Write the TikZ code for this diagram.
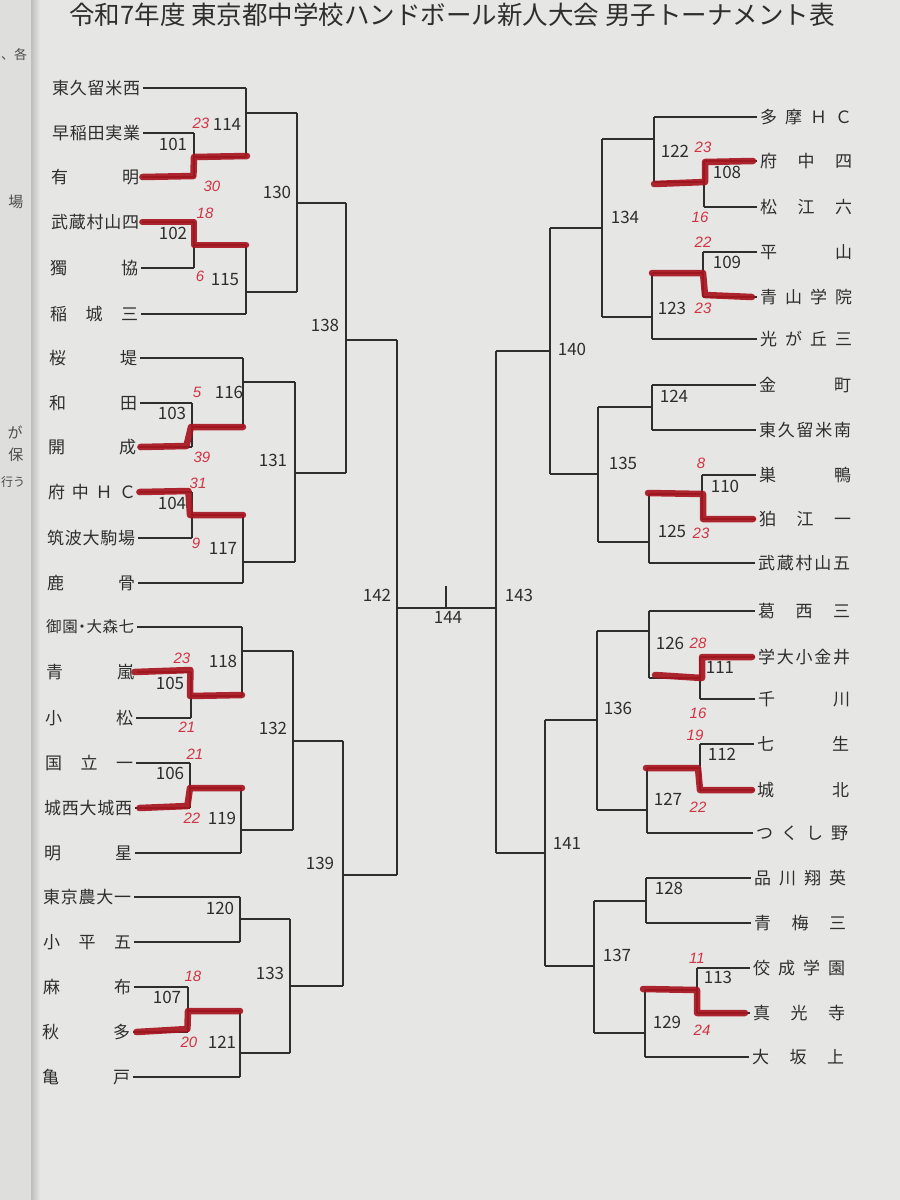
\documentclass[tikz,border=0pt]{standalone}
\usepackage{fontspec}
\newfontfamily\jp{Noto Sans CJK JP}
\newfontfamily\hand{Liberation Sans}
\definecolor{paper}{HTML}{E6E6E4}
\definecolor{strip}{HTML}{DEDEDC}
\definecolor{shadowc}{HTML}{BEBEBC}
\definecolor{ink}{HTML}{2E2E2E}
\definecolor{redink}{HTML}{A8141E}
\definecolor{scorered}{HTML}{D03444}
\newcommand\teamL[1]{\makebox[88pt][s]{#1}}
\newcommand\teamR[1]{\makebox[92pt][s]{#1}}
\begin{document}
\begin{tikzpicture}[x=1pt,y=-1pt,
  bline/.style={draw=ink, line width=1.2pt},
  win/.style={draw=redink, line width=6.5pt, line cap=round, line join=round, opacity=0.92},
  team/.style={font=\jp\fontsize{17}{20}\selectfont, anchor=west, inner sep=0pt, text=ink},
  num/.style={font=\jp\fontsize{17}{20}\selectfont, inner sep=0pt, text=ink},
  score/.style={font=\hand\itshape\fontsize{15}{16}\selectfont, inner sep=0pt, text=scorered},
  margin/.style={font=\jp\fontsize{15}{18}\selectfont, inner sep=0pt, text=ink!85}]
\useasboundingbox (0,0) rectangle (900,1200);
\fill[paper] (0,0) rectangle (900,1200);
\fill[strip] (0,0) rectangle (31,1200);
\shade[left color=shadowc, right color=paper] (31,0) rectangle (40,1200);
% margin fragments
\node[margin, anchor=west, font=\jp\fontsize{13}{15}\selectfont] (mg1) at (1,55) {、各};
\node[margin] (mg2) at (16,202) {場};
\node[margin] (mg3) at (15,432) {が};
\node[margin] (mg4) at (16,455) {保};
\node[margin, anchor=west, font=\jp\fontsize{12}{14}\selectfont] (mg5) at (1,482) {行う};
% title
\node[font=\jp\fontsize{25.5}{28}\selectfont, text=ink, inner sep=0pt] (title) at (452,15) {令和7年度 東京都中学校ハンドボール新人大会 男子トーナメント表};

% ---------------- left teams
\node[team] (L1) at (52,88) {\teamL{東\hfill 久\hfill 留\hfill 米\hfill 西}};
\node[team] (L2) at (52,133) {\teamL{早\hfill 稲\hfill 田\hfill 実\hfill 業}};
\node[team] (L3) at (51,177) {\teamL{有\hfill 明}};
\node[team] (L4) at (51,222) {\teamL{武\hfill 蔵\hfill 村\hfill 山\hfill 四}};
\node[team] (L5) at (50,268) {\teamL{獨\hfill 協}};
\node[team] (L6) at (50,314) {\teamL{稲\hfill 城\hfill 三}};
\node[team] (L7) at (49,358) {\teamL{桜\hfill 堤}};
\node[team] (L8) at (49,403) {\teamL{和\hfill 田}};
\node[team] (L9) at (48,447) {\teamL{開\hfill 成}};
\node[team] (L10) at (48,492) {\teamL{府\hfill 中\hfill Ｈ\hfill Ｃ}};
\node[team] (L11) at (47,538) {\teamL{筑\hfill 波\hfill 大\hfill 駒\hfill 場}};
\node[team] (L12) at (47,583) {\teamL{鹿\hfill 骨}};
\node[team, font=\jp\fontsize{15.5}{18}\selectfont] (L13) at (46,627) {\teamL{御\hfill 園\hfill\kern-4pt ・\kern-4pt\hfill 大\hfill 森\hfill 七}};
\node[team] (L14) at (46,672) {\teamL{青\hfill 嵐}};
\node[team] (L15) at (45,718) {\teamL{小\hfill 松}};
\node[team] (L16) at (45,763) {\teamL{国\hfill 立\hfill 一}};
\node[team] (L17) at (44,808) {\teamL{城\hfill 西\hfill 大\hfill 城\hfill 西}};
\node[team] (L18) at (44,853) {\teamL{明\hfill 星}};
\node[team] (L19) at (43,897) {\teamL{東\hfill 京\hfill 農\hfill 大\hfill 一}};
\node[team] (L20) at (43,942) {\teamL{小\hfill 平\hfill 五}};
\node[team] (L21) at (43,987) {\teamL{麻\hfill 布}};
\node[team] (L22) at (42,1032) {\teamL{秋\hfill 多}};
\node[team] (L23) at (42,1077) {\teamL{亀\hfill 戸}};

% ---------------- right teams
\node[team] (R1) at (760,117) {\teamR{多\hfill 摩\hfill Ｈ\hfill Ｃ}};
\node[team] (R2) at (760,161) {\teamR{府\hfill 中\hfill 四}};
\node[team] (R3) at (760,207) {\teamR{松\hfill 江\hfill 六}};
\node[team] (R4) at (760,252) {\teamR{平\hfill 山}};
\node[team] (R5) at (760,297) {\teamR{青\hfill 山\hfill 学\hfill 院}};
\node[team] (R6) at (760,339) {\teamR{光\hfill が\hfill 丘\hfill 三}};
\node[team] (R7) at (759,385) {\teamR{金\hfill 町}};
\node[team] (R8) at (759,430) {\teamR{東\hfill 久\hfill 留\hfill 米\hfill 南}};
\node[team] (R9) at (759,475) {\teamR{巣\hfill 鴨}};
\node[team] (R10) at (759,519) {\teamR{狛\hfill 江\hfill 一}};
\node[team] (R11) at (758,563) {\teamR{武\hfill 蔵\hfill 村\hfill 山\hfill 五}};
\node[team] (R12) at (758,611) {\teamR{葛\hfill 西\hfill 三}};
\node[team] (R13) at (758,657) {\teamR{学\hfill 大\hfill 小\hfill 金\hfill 井}};
\node[team] (R14) at (758,699) {\teamR{千\hfill 川}};
\node[team] (R15) at (757,744) {\teamR{七\hfill 生}};
\node[team] (R16) at (757,790) {\teamR{城\hfill 北}};
\node[team] (R17) at (756,833) {\teamR{つ\hfill く\hfill し\hfill 野}};
\node[team] (R18) at (754,878) {\teamR{品\hfill 川\hfill 翔\hfill 英}};
\node[team] (R19) at (754,923) {\teamR{青\hfill 梅\hfill 三}};
\node[team] (R20) at (753,968) {\teamR{佼\hfill 成\hfill 学\hfill 園}};
\node[team] (R21) at (753,1013) {\teamR{真\hfill 光\hfill 寺}};
\node[team] (R22) at (752,1057) {\teamR{大\hfill 坂\hfill 上}};

% ---------------- match points (left)
\coordinate (m101) at (194,157); \coordinate (m102) at (194,245);
\coordinate (m103) at (192,427); \coordinate (m104) at (192,515);
\coordinate (m105) at (191,696); \coordinate (m106) at (190,788);
\coordinate (m107) at (188,1011);
\coordinate (m114) at (246,113); \coordinate (m115) at (246,292);
\coordinate (m116) at (243,382); \coordinate (m117) at (243,562);
\coordinate (m118) at (242,651); \coordinate (m119) at (241,830);
\coordinate (m120) at (240,919); \coordinate (m121) at (240,1053);
\coordinate (m130) at (297,203); \coordinate (m131) at (295,473);
\coordinate (m132) at (293,741); \coordinate (m133) at (290,986);
\coordinate (m138) at (346,340); \coordinate (m139) at (343,875);
\coordinate (m142) at (397,608);
% (right)
\coordinate (m108) at (704,182); \coordinate (m109) at (703,273);
\coordinate (m110) at (702,494); \coordinate (m111) at (700,678);
\coordinate (m112) at (700,768); \coordinate (m113) at (697,990);
\coordinate (m122) at (654,139); \coordinate (m123) at (652,317);
\coordinate (m124) at (652,407); \coordinate (m125) at (649,542);
\coordinate (m126) at (649,631); \coordinate (m127) at (647,810);
\coordinate (m128) at (646,901); \coordinate (m129) at (645,1033);
\coordinate (m134) at (602,228); \coordinate (m135) at (598,474);
\coordinate (m136) at (597,720); \coordinate (m137) at (594,966);
\coordinate (m140) at (550,351); \coordinate (m141) at (545,853);
\coordinate (m143) at (496,608);
\coordinate (fin) at (446,586);

% ---------------- left bracket lines
\foreach \t/\m in {L1/m114,L2/m101,L3/m101,L4/m102,L5/m102,L6/m115,L7/m116,L8/m103,L9/m103,L10/m104,L11/m104,L12/m117,L13/m118,L14/m105,L15/m105,L16/m106,L17/m106,L18/m119,L19/m120,L20/m120,L21/m107,L22/m107,L23/m121}
  \draw[bline] ([xshift=3pt]\t.east) -- (\t -| \m);
\foreach \m/\a/\b/\n in {m101/L2/L3/m114, m102/L4/L5/m115, m103/L8/L9/m116, m104/L10/L11/m117,
  m105/L14/L15/m118, m106/L16/L17/m119, m107/L21/L22/m121,
  m114/L1/m101/m130, m115/m102/L6/m130, m116/L7/m103/m131, m117/m104/L12/m131,
  m118/L13/m105/m132, m119/m106/L18/m132, m120/L19/L20/m133, m121/m107/L23/m133,
  m130/m114/m115/m138, m131/m116/m117/m138, m132/m118/m119/m139, m133/m120/m121/m139,
  m138/m130/m131/m142, m139/m132/m133/m142}
  { \draw[bline] (\a -| \m) -- (\b -| \m); \draw[bline] (\m) -- (\m -| \n); }
\draw[bline] (m138 -| m142) -- (m139 -| m142);

% ---------------- right bracket lines
\foreach \t/\m in {R1/m122,R2/m108,R3/m108,R4/m109,R5/m109,R6/m123,R7/m124,R8/m124,R9/m110,R10/m110,R11/m125,R12/m126,R13/m111,R14/m111,R15/m112,R16/m112,R17/m127,R18/m128,R19/m128,R20/m113,R21/m113,R22/m129}
  \draw[bline] ([xshift=-3pt]\t.west) -- (\t -| \m);
\foreach \m/\a/\b/\n in {m108/R2/R3/m122, m109/R4/R5/m123, m110/R9/R10/m125, m111/R13/R14/m126,
  m112/R15/R16/m127, m113/R20/R21/m129,
  m122/R1/m108/m134, m123/m109/R6/m134, m124/R7/R8/m135, m125/m110/R11/m135,
  m126/R12/m111/m136, m127/m112/R17/m136, m128/R18/R19/m137, m129/m113/R22/m137,
  m134/m122/m123/m140, m135/m124/m125/m140, m136/m126/m127/m141, m137/m128/m129/m141,
  m140/m134/m135/m143, m141/m136/m137/m143}
  { \draw[bline] (\a -| \m) -- (\b -| \m); \draw[bline] (\m) -- (\m -| \n); }
\draw[bline] (m140 -| m143) -- (m141 -| m143);
% final
\draw[bline] (m142) -- (m143);
\draw[bline] (fin) -- (fin |- m142);

% ---------------- red winner marks
\draw[win] ([xshift=3pt]L3.east) -- ++(51,-1) -- (m101) -- ++(53,-1);
\draw[win] ([xshift=3pt]L4.east) -- (L4 -| m102) -- (m102) -- ++(52,0);
\draw[win] ([xshift=4pt]L9.east) -- ++(46,-1) -- ([xshift=-1pt]m103) -- ++(52,0);
\draw[win] ([xshift=3pt]L10.east) -- ++(49,-1) -- ([xshift=-2pt]m104) -- ++(53,0);
\draw[win] ([xshift=0pt]L14.east) -- ++(56,-2) -- ([xshift=-1pt]m105) -- ++(52,-1);
\draw[win] ([xshift=7pt]L17.east) -- ++(48,-2) -- (m106) -- ++(52,0);
\draw[win] ([xshift=6pt]L22.east) -- ++(51,-3) -- (m107) -- ++(52,0);
\draw[win] ([xshift=-7pt]R2.west) -- ++(-48,1) -- ([xshift=1pt]m108) -- ++(-51,2);
\draw[win] ([xshift=-8pt]R5.west) -- ++(-47,-2) -- (m109) -- ++(-51,0);
\draw[win] ([xshift=-6pt]R10.west) -- ++(-50,0) -- ([xshift=1pt]m110) -- ++(-55,-1);
\draw[win] ([xshift=-6pt]R13.west) -- ++(-50,0) -- ([xshift=2pt]m111) -- ++(-47,-3);
\draw[win] ([xshift=-5pt]R16.west) -- ++(-52,0) -- ([xshift=-2pt]m112) -- ++(-52,0);
\draw[win] ([xshift=-8pt]R21.west) -- ++(-48,0) -- (m113) -- ++(-54,-1);

% ---------------- match numbers
\foreach \p/\lab in {{173,144}/101,{173,233}/102,{172,413}/103,{172,503}/104,{170,683}/105,{170,773}/106,{167,997}/107,
  {227,124}/114,{225,280}/115,{229,392}/116,{223,548}/117,{223,661}/118,{222,818}/119,{220,908}/120,{222,1042}/121,
  {277,192}/130,{273,460}/131,{273,728}/132,{270,973}/133,{325,325}/138,{320,863}/139,
  {377,595}/142,{448,617}/144,{519,595}/143,
  {675,151}/122,{727,172}/108,{727,262}/109,{672,308}/123,{625,217}/134,{572,349}/140,
  {674,396}/124,{725,486}/110,{672,531}/125,{623,463}/135,
  {670,643}/126,{720,667}/111,{722,754}/112,{668,799}/127,{618,708}/136,{567,843}/141,
  {669,888}/128,{718,977}/113,{667,1022}/129,{617,955}/137}
  \node[num] (n\lab) at (\p) {\lab};

% ---------------- handwritten scores
\foreach \p/\s/\k in {{201,123}/23/a,{212,186}/30/b,{205,213}/18/c,{200,276}/6/d,{197,392}/5/e,{202,457}/39/f,
  {198,483}/31/g,{196,543}/9/h,{182,658}/23/i,{187,727}/21/j,{195,754}/21/k,{192,818}/22/l,{193,976}/18/m,{189,1042}/20/n,
  {703,147}/23/o,{700,217}/16/p,{703,242}/22/q,{703,308}/23/r,{701,463}/8/s,{701,533}/23/t,
  {698,643}/28/u,{698,713}/16/v,{695,735}/19/w,{698,807}/22/x,{697,958}/11/y,{702,1030}/24/z}
  \node[score] (s\k) at (\p) {\s};
\end{tikzpicture}
\end{document}
